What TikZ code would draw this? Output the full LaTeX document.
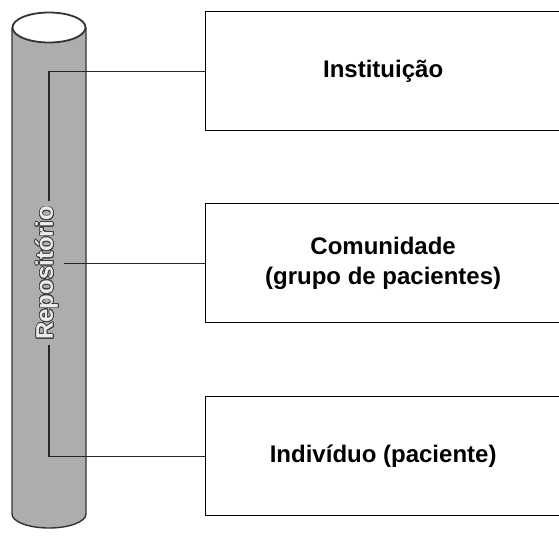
\documentclass[tikz,border=0pt]{standalone}
\usepackage{fontspec}
\setmainfont{Liberation Sans}
\usepackage{contour}
\contourlength{0.7pt}
\contournumber{24}
\colorlet{tubegray}{black!32}
\tikzset{
  x=1pt, y=-1pt,
  level/.style={draw=black, line width=1.3pt, minimum width=355pt, minimum height=119pt,
                anchor=north west, inner sep=0pt, align=center,
                font=\fontsize{24}{30}\selectfont\bfseries},
  link/.style={draw=black!85, line width=1.1pt},
  tube/.style={draw=black!80, line width=1.4pt, fill=tubegray},
}
\begin{document}
\begin{tikzpicture}
\useasboundingbox (0,0) rectangle (559,538);
\clip (0,0) rectangle (559,538);

% repository cylinder
\path[tube] (12,28) -- (12,514) arc[start angle=180, end angle=360, x radius=37pt, y radius=14pt]
  -- (86,28) -- cycle;
\path[tube, fill=white, line width=1.8pt] (49,27.5) ellipse[x radius=36.5pt, y radius=15pt];

% the three levels
\node[level] (inst) at (205,11) {Instituição};
\node[level] (comu) at (205,203) {Comunidade\\(grupo de pacientes)};
\node[level] (indi) at (205,396) {Indivíduo (paciente)};

% spine running down the cylinder
\coordinate (spine) at (49,0);
\draw[link] (inst.west) -- (inst.west -| spine) -- (indi.west -| spine) -- (indi.west);

% label on the cylinder
\node[rotate=90, fill=tubegray, inner sep=5pt, font=\fontsize{24}{24}\selectfont\bfseries]
  (lab) at (47,273) {\contour{black!75}{\textcolor{white!92!black}{Repositório}}};

\draw[link] (comu.west) -- (comu.west -| lab.south);
\end{tikzpicture}
\end{document}
